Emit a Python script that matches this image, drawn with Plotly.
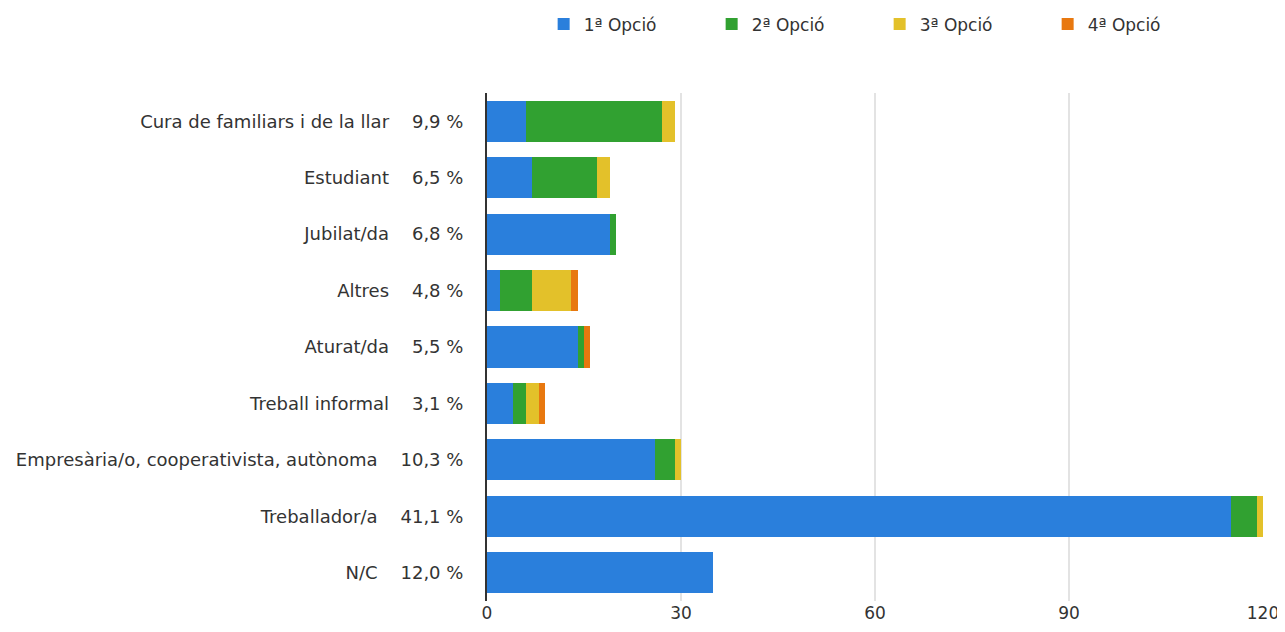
import plotly.graph_objects as go

categories = [
    "Cura de familiars i de la llar",
    "Estudiant",
    "Jubilat/da",
    "Altres",
    "Aturat/da",
    "Treball informal",
    "Empresària/o, cooperativista, autònoma",
    "Treballador/a",
    "N/C",
]
percentages = ["9,9 %", "6,5 %", "6,8 %", "4,8 %", "5,5 %", "3,1 %", "10,3 %", "41,1 %", "12,0 %"]

opcio_1 = [6, 7, 19, 2, 14, 4, 26, 115, 35]
opcio_2 = [21, 10, 1, 5, 1, 2, 3, 4, 0]
opcio_3 = [2, 2, 0, 6, 0, 2, 1, 1, 0]
opcio_4 = [0, 0, 0, 1, 1, 1, 0, 0, 0]

series_names = ["1ª Opció", "2ª Opció", "3ª Opció", "4ª Opció"]
colors = ["#2a7fdc", "#31a131", "#e3c12a", "#e8780f"]

tick_labels = [c + "\u00a0" * 4 + p for c, p in zip(categories, percentages)]

fig = go.Figure()
for name, vals, col in zip(series_names, [opcio_1, opcio_2, opcio_3, opcio_4], colors):
    fig.add_trace(go.Bar(
        y=tick_labels, x=vals, name=name, orientation="h",
        marker=dict(color=col, line=dict(width=0)),
    ))

# page body has an 8px margin, so offset the plot area accordingly
fig.update_layout(
    barmode="stack",
    bargap=0.27,
    width=1285, height=632,
    margin=dict(l=479, r=30, t=85, b=39, autoexpand=False),
    plot_bgcolor="white", paper_bgcolor="white",
    font=dict(family="DejaVu Sans, Arial", size=17, color="#333333"),
    legend=dict(
        orientation="h", x=0.073, y=1.135, xanchor="left", yanchor="middle",
        traceorder="normal",
        entrywidth=123, entrywidthmode="pixels",
        font=dict(size=17, color="#333333"),
    ),
    xaxis=dict(
        range=[0, 120], tickvals=[0, 30, 60, 90, 120],
        showgrid=True, gridcolor="#e3e3e3", gridwidth=2,
        zeroline=False, showline=False, ticks="", automargin=False,
    ),
    yaxis=dict(
        autorange="reversed", showline=True, linecolor="#333333", linewidth=2,
        ticks="", ticklabelstandoff=18, showgrid=False, automargin=False,
        tickfont=dict(size=18),
    ),
)

fig.write_html("out.html")
